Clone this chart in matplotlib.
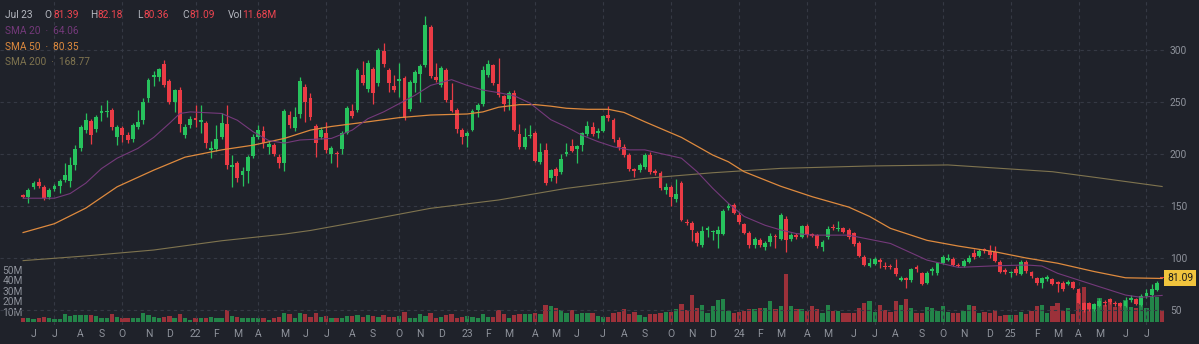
import numpy as np
import pandas as pd
import matplotlib
matplotlib.use("Agg")
import matplotlib.pyplot as plt

plt.rcParams["font.family"] = ["Roboto", "DejaVu Sans"]

# weekly bars, one per Monday
first_week = "2021-05-17"
last_label = "Jul 23"

opens = [
    161, 159, 168.5, 173, 168.5, 158.5, 166, 169, 175, 174,
    189, 206, 223, 232, 224, 239, 240, 242, 216, 225,
    218, 214, 226, 233, 253.5, 274, 274.5, 287, 270, 250,
    262, 218, 228, 235, 231, 230, 204, 205, 216, 229,
    188, 191, 180, 184, 198, 216.5, 222, 206.5, 209, 197.5,
    191, 237.5, 225, 238.5, 264, 253.5, 227, 216.5, 220.5, 200.5,
    201, 204.5, 220.5, 241.5, 242, 276, 263, 281.5, 268, 299,
    281, 265, 270, 273, 243, 268, 276.5, 285.5, 322, 274.5,
    266, 281, 252, 242, 223.5, 217.3, 223.5, 242.3, 248.5, 276,
    285.5, 267, 256, 252.5, 259, 219, 207, 217, 220.5, 192.5,
    204, 176.5, 186, 183, 200, 207.5, 204.5, 208.5, 219, 226,
    220, 222.5, 237.5, 233, 213.5, 207, 199, 185.5, 184.5, 188,
    199, 184, 182, 165, 168, 157, 172, 135, 134, 124,
    112.5, 127, 125, 123, 123, 148, 151, 141, 132.5, 124.5,
    112.5, 117, 111, 115, 121, 118, 138, 118, 122, 120,
    131, 123, 122, 110.5, 120.5, 130, 128, 128.5, 127, 124,
    114, 101, 92.5, 94, 98.5, 92.5, 92, 90, 79, 80.5,
    79, 91, 86, 76, 88, 85.5, 95, 98, 99.5, 93.3,
    92.5, 96.5, 104.5, 102, 108.5, 107, 106, 96.5, 88.5, 85.3,
    89, 84.6, 96.4, 86.8, 80.5, 76.3, 79.5, 79.5, 77, 76.3,
    75, 77.2, 70, 57, 56.4, 50.7, 54, 58, 61, 57,
    57, 54, 59.6, 60.3, 55, 63.5, 64.5, 69, 81.39,
]
highs = [
    162, 167, 174, 177, 170, 167, 171, 176, 191, 197,
    209, 228, 239, 234, 238, 247, 252, 244, 228, 227,
    221, 230, 242, 254, 273, 280, 283, 290.5, 272, 263,
    264, 229, 237, 247, 247, 232, 213, 228, 239, 247,
    199, 193, 188, 199, 219, 228, 227, 213, 211, 200,
    243, 241, 245, 274, 267, 259, 229, 226, 231, 208,
    203, 222, 246, 248, 283, 289, 290, 284, 302, 307,
    283, 276, 288, 275, 271, 281, 287, 333, 324, 288,
    285, 283, 268.5, 244, 225, 222, 243, 249, 284.5, 290.5,
    287, 292, 257, 261, 262, 229, 225, 228, 222, 211,
    211, 186, 188, 200, 211, 214, 209, 221, 232, 231,
    225, 238, 246, 235, 216, 210, 201, 187, 191, 201,
    202, 186, 184, 172, 170, 176, 174, 138, 136, 126,
    131, 131, 127, 131, 147, 153, 153, 144, 134, 126,
    120, 119, 116, 124, 123, 143, 140, 124, 124, 132,
    133, 124, 123, 117, 131, 133, 136, 130, 129, 125,
    116, 103, 100, 101, 100, 96, 94, 99, 83, 82,
    90, 93, 87, 88, 91, 96, 103, 104, 101, 95,
    99, 103, 109, 109, 110, 112.5, 112, 98, 90, 88,
    92, 98, 98, 88, 82, 82, 84, 81, 78, 78,
    79, 78, 71, 58, 58, 57, 62, 60, 62, 59,
    58, 63, 64, 62, 65, 70, 75, 78, 82.18,
]
lows = [
    158, 153, 166, 167, 156, 157, 164, 163, 173, 168,
    185, 203, 220, 210, 221, 232, 236, 223, 209, 212,
    211, 212, 224, 229, 250, 265, 270, 264, 248, 240,
    221, 215, 225, 226, 220, 206, 196, 203, 214, 186,
    168.5, 173, 169, 172, 196, 214, 206, 200, 198, 187,
    184, 225, 222, 235, 231, 233, 197, 214, 201, 191.5,
    188, 200, 219, 235, 240, 266, 260, 248, 265, 284,
    260, 260, 254.5, 233, 241, 260, 250, 284, 273, 269,
    264, 250, 240, 220, 210, 207, 222, 235.3, 246, 274,
    266, 255, 241.5, 242, 222, 205, 205, 215, 192, 190,
    170.5, 174, 172, 181, 198, 202, 191, 203, 217, 217,
    215, 221, 232, 212, 204, 197, 184, 178, 183, 186,
    181, 180, 165, 162, 150, 154, 136, 132, 116, 112,
    111, 120, 117, 110, 122, 146, 142, 133, 123, 110,
    110, 111, 108, 112, 110, 117, 106, 116, 118, 119,
    120, 120, 110, 107, 118, 127, 126, 124, 118, 112,
    101, 92, 91, 93, 90, 89, 89, 83, 78, 71,
    77, 87, 74, 75, 84, 84, 94, 97, 92, 91,
    91, 95, 99, 101, 105, 100, 96, 86, 85, 82,
    84, 84, 86, 81, 74, 71, 78, 74, 67, 68,
    74, 70, 56, 48, 49, 49, 53, 54, 56, 54,
    53, 53, 58, 55, 54, 62, 63, 68, 80.36,
]
closes = [
    159, 165, 172.5, 169, 157.5, 165, 169, 174, 180, 189,
    205, 226, 233, 218, 236, 241, 241.5, 226, 226, 218,
    213.5, 228, 231, 250, 271, 276, 281.5, 266, 250, 261.5,
    229, 226, 233.5, 233, 233, 211, 205.5, 214, 230, 189,
    189.5, 176.5, 184, 197.5, 216, 223.5, 210.5, 209.5, 200, 191,
    241.5, 228, 236, 270.5, 250, 235.5, 211, 223.5, 204, 205.5,
    200, 220.5, 244, 236.5, 281, 268.5, 288, 259, 300, 286.5,
    268, 262, 272, 235, 269.5, 279, 284.5, 324, 275, 271,
    283, 252, 241.5, 224.5, 216, 220.5, 241.5, 247, 281, 286.5,
    268, 256.5, 248, 258.5, 223.5, 207, 216, 218.5, 193.5, 202,
    172, 184.5, 179, 195, 202, 203, 207.5, 220, 227, 219,
    222, 236.5, 234.5, 214, 207, 199, 186, 183.5, 189.5, 199,
    183, 182, 167, 168, 158.5, 162, 137, 133.5, 127, 114,
    126, 128.5, 126, 127, 145.5, 150, 143, 135, 124.5, 112.5,
    118, 112.5, 114, 121, 120, 141, 117, 122, 120, 131,
    122, 121.5, 111.5, 115.5, 127.5, 129, 129, 125.5, 120.5, 113.5,
    102, 93.5, 95, 98.7, 96.5, 91, 91, 84.5, 80.5, 79,
    89, 89, 75, 86, 89, 95, 101, 100.5, 93.5, 92.5,
    97.5, 100.5, 101, 107, 107, 103, 97.5, 87, 87, 86.8,
    85.3, 96.4, 87.8, 82.7, 75.6, 80.5, 81.5, 75, 75, 70,
    77, 71, 57, 50, 50.7, 55.8, 59, 56.5, 58, 56,
    54, 59, 61.3, 55.8, 63.5, 66.7, 70, 76, 81.09,
]
# volume in millions of shares
volumes = [
    3.5, 4.3, 2.7, 3.5, 5, 4.3, 2.7, 2.7, 7.5, 5.9,
    6.7, 6.7, 6.7, 6.7, 5.9, 4.3, 4.3, 7.5, 5, 4.3,
    4.3, 3.5, 4.3, 9.1, 6.7, 4.5, 3.5, 5, 5.9, 3.5,
    8, 3.5, 1.9, 4.3, 3.5, 4.3, 5, 3.5, 4.3, 11.5,
    5.9, 5, 4.3, 4.3, 3.5, 4.3, 4.3, 1.9, 3.5, 5,
    9.1, 7.5, 3.5, 8.3, 7.5, 5, 8.3, 5, 5.9, 3.5,
    3.5, 3.5, 6.2, 6.2, 6.7, 5, 6.7, 6.2, 5, 6.7,
    5, 5, 5.9, 9.9, 4.3, 3.5, 7.5, 6.2, 9.1, 3.5,
    5, 6.7, 7.5, 4.3, 5, 6.2, 5, 3.5, 7.5, 5,
    5, 11.5, 8, 4.3, 6.7, 7.5, 7.5, 7.5, 9.1, 7.5,
    16, 15.4, 13.8, 11.5, 9, 11.5, 7.5, 8.3, 8.3, 8.3,
    5.6, 5, 4.5, 9, 10, 12.4, 7.8, 10, 6.7, 4.5,
    7.8, 7.8, 8.3, 10, 10, 12.4, 17.5, 12, 26.4, 13.5,
    16.7, 8.3, 15, 21.5, 22, 11, 8.3, 9.6, 11, 12.4,
    12.4, 13.5, 13.5, 20.5, 12.4, 15, 46.2, 15, 12.4, 12.4,
    11, 15, 12.4, 8.3, 16.7, 11, 11, 8.3, 8.3, 9,
    13.5, 18.2, 19.8, 10, 16.3, 11.5, 10, 20.5, 16.3, 21.8,
    13, 9, 9, 14.7, 13, 10.8, 15.2, 10, 9, 8.3,
    10.8, 16.3, 15.2, 8.3, 10, 9, 11.5, 6, 7, 7,
    7, 10, 8, 10.8, 15.2, 16.3, 8.3, 15.2, 18, 10.8,
    13, 8, 28, 33.3, 18, 16.3, 22.8, 16.3, 21, 14.7,
    16.3, 21, 14.7, 13, 24.4, 13, 23.9, 23.9, 11.68,
]

# moving averages, sampled at bar numbers
sma20_bar = [0, 6, 9, 12, 15, 18, 22, 25, 28, 30, 32, 38, 41, 44, 47, 50, 53, 59, 63, 66,
             69, 72, 75, 78, 82, 85, 88, 91, 94, 97, 101, 104, 107, 110, 113, 116, 119, 122, 126, 129,
             132, 135, 138, 142, 145, 148, 151, 158, 162, 166, 173, 179, 186, 192, 195, 198, 205, 211, 214, 218]
sma20_val = [157.5, 157.5, 162, 172, 186, 196, 205.5, 216, 229.5, 239, 240.5, 239, 232.5, 221.5, 213, 210.5, 213.5, 215, 223, 234,
             240.5, 248.5, 256.5, 266, 271.5, 266, 261.5, 259, 256, 249, 233, 226, 218, 212, 207, 204, 204, 200.5, 196, 183,
             167, 152.5, 140, 131.5, 127, 123.5, 122, 122, 118, 114, 98, 91, 92.5, 93.3, 92.3, 85.3, 74, 64.4, 62.2, 64.06]
sma50_bar = [0, 6, 12, 18, 25, 31, 38, 44, 50, 55, 59, 66, 72, 78, 85, 88, 91, 95, 98, 101,
             104, 108, 112, 115, 119, 126, 132, 135, 138, 142, 145, 151, 158, 162, 166, 173, 179, 186, 192, 198,
             205, 211, 218]
sma50_val = [124.5, 133, 148, 168.5, 184.5, 197, 204, 208.5, 215, 223, 226.5, 231, 235, 237.5, 238.5, 240.5, 245, 247.5, 247.5, 246,
             244, 243, 243, 240, 231, 216, 199, 192.5, 183, 175, 169, 159, 149, 140, 128.5, 117, 111.5, 106, 100, 95,
             87, 81, 80.35]
sma200_bar = [0, 12, 25, 38, 50, 55, 66, 78, 91, 104, 119, 132, 145, 162, 177, 197, 206, 218]
sma200_val = [97.5, 102, 107.7, 116.6, 123, 126.5, 136.5, 147.8, 155.8, 167, 176.6, 182, 186.2, 188.5, 189.5, 183, 177, 168.77]

price_ticks = [50, 100, 150, 200, 250, 300]
volume_ticks = [10, 20, 30, 40, 50]

# colours
bg = "#1f222a"
grid_c = "#353944"
text_c = "#8e929b"
up_c = "#27c25d"
down_c = "#ea3b45"
sma20_c = "#74397a"
sma50_c = "#de8a3e"
sma200_c = "#7f744f"

o = np.array(opens)
h = np.array(highs)
l = np.array(lows)
c = np.array(closes)
v = np.array(volumes)
n = len(c)
x = np.arange(n)
dates = pd.date_range(first_week, periods=n, freq="W-MON")
rising = c >= o
bar_colors = np.where(rising, up_c, down_c)

W, H = 1199, 344
fig = plt.figure(figsize=(W / 100, H / 100), dpi=100, facecolor=bg)
ax = fig.add_axes([0, 19 / H, 1165 / W, 325 / H])
ax_vol = ax.twinx()
ax.set_zorder(ax_vol.get_zorder() + 1)
ax.patch.set_visible(False)

# volume histogram underneath the candles
ax_vol.bar(x, v, width=0.82, color=bar_colors, alpha=0.62, linewidth=0)
ax_vol.set_ylim(-2.9, 309.6)

# candles: wicks then bodies
ax.vlines(x, l, h, colors=bar_colors, linewidth=0.9, zorder=2)
body_low = np.minimum(o, c)
body_h = np.maximum(np.abs(c - o), 0.8)
ax.bar(x, body_h, bottom=body_low, width=0.74, color=bar_colors, linewidth=0, zorder=3)

# moving averages
ax.plot(sma200_bar, sma200_val, color=sma200_c, linewidth=0.8, zorder=4)
ax.plot(sma50_bar, sma50_val, color=sma50_c, linewidth=0.9, zorder=4)
ax.plot(sma20_bar, sma20_val, color=sma20_c, linewidth=0.8, zorder=4)

ax.set_xlim(-4.42, 218.55)
ax.set_ylim(35.6, 348.1)

# month labels at the bar holding each month's first trading day
month_starts = pd.date_range("2021-06-01", "2025-07-01", freq="BMS")
tick_pos = [int((dates <= d).sum()) - 1 for d in month_starts]
tick_lab = [d.strftime("%y") if d.month == 1 else d.strftime("%b")[0] for d in month_starts]
ax.set_xticks(tick_pos)
ax.set_xticklabels(tick_lab)
ax.tick_params(axis="x", length=0, pad=3, labelsize=7.5, labelcolor=text_c)

# dashed grid: price levels and quarter starts
ax.set_yticks(price_ticks)
ax.yaxis.tick_right()
ax.tick_params(axis="y", length=0, pad=3.6, labelsize=7.3, labelcolor=text_c)
ax.grid(axis="y", color=grid_c, linestyle=(0, (3, 3)), linewidth=0.8)
for pos, d in zip(tick_pos, month_starts):
    if d.month in (1, 4, 7, 10):
        ax.axvline(pos, color=grid_c, linestyle=(0, (3, 3)), linewidth=0.8, zorder=0.5)
ax.set_axisbelow(True)

ax_vol.yaxis.set_ticks_position("left")
ax_vol.set_yticks(volume_ticks)
ax_vol.set_yticklabels([f"{t}M" for t in volume_ticks])
ax_vol.tick_params(axis="y", length=0, pad=-16.5, labelsize=7.3, labelcolor=text_c)

for a in (ax, ax_vol):
    for s in a.spines.values():
        s.set_visible(False)

# last price tag
ax.annotate(f"{c[-1]:.2f}", xy=(1.0, c[-1]), xycoords=("axes fraction", "data"),
            xytext=(1.5, 0), textcoords="offset points", ha="left", va="center",
            fontsize=7.5, color="#1b1b1b", annotation_clip=False,
            bbox=dict(boxstyle="square,pad=0.28", fc="#f1c43d", ec="none"))


def px_text(px, py, s, color, size=7.3):
    fig.text(px / W, 1 - py / H, s, color=color, fontsize=size, ha="left", va="center")


# header: last bar values
label_c = "#b4b7bf"
value_c = "#ee4550"
px_text(5, 14.5, last_label, label_c)
fields = [("O", o[-1], 44, 53), ("H", h[-1], 90, 98), ("L", l[-1], 137, 144), ("C", c[-1], 182, 190)]
for name, val, lx, vx in fields:
    px_text(lx, 14.5, name, label_c)
    px_text(vx, 14.5, f"{val:.2f}", value_c)
px_text(228, 14.5, "Vol", label_c)
px_text(242, 14.5, f"{v[-1]:.2f}M", value_c)

px_text(5, 31, f"SMA 20  \u00b7  {sma20_val[-1]:.2f}", sma20_c)
px_text(5, 46.5, f"SMA 50  \u00b7  {sma50_val[-1]:.2f}", sma50_c)
px_text(5, 62, f"SMA 200  \u00b7  {sma200_val[-1]:.2f}", sma200_c)

fig.savefig("out.png", dpi=100, facecolor=bg)
